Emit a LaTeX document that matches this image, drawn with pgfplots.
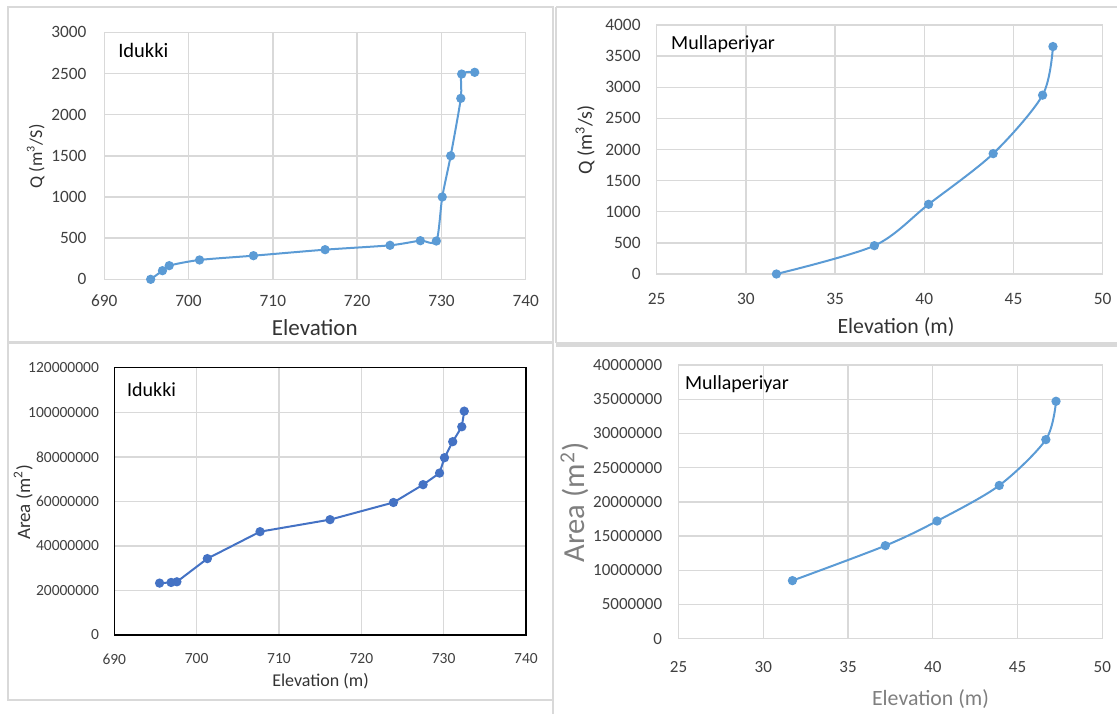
\documentclass[border=0pt]{standalone}
\usepackage{fontspec}
\setmainfont{Carlito}
\usepackage{pgfplots}
\pgfplotsset{compat=1.18}
\definecolor{lblue}{HTML}{5B9BD5}
\definecolor{dblue}{HTML}{4472C4}
\definecolor{gridc}{HTML}{D9D9D9}
\definecolor{tickc}{HTML}{404040}
\definecolor{axc}{HTML}{333333}
\definecolor{framec}{HTML}{D9D9D9}
\definecolor{gtitle}{HTML}{7F7F7F}
\pgfplotsset{
  myax/.style={anchor=south west, scale only axis, grid=major,
    grid style={gridc, line width=0.7pt},
    major tick length=0pt,
    axis line style={gridc, line width=0.7pt},
    tick label style={text=tickc},
    yticklabel style={anchor=east, inner sep=0pt},
    xticklabel style={anchor=center, inner sep=0pt},
    clip=false},
  lser/.style={lblue, line width=1pt, mark=*, mark size=1.8pt, mark options={fill=lblue, draw=lblue}},
}
\begin{document}
\begin{tikzpicture}
\useasboundingbox (0pt,0pt) rectangle (558.5pt,-357pt);
% panel frames
\draw[framec, line width=0.8pt] (4pt,-3.5pt) rectangle (276.5pt,-171pt);
\draw[framec, line width=0.8pt] (4pt,-171.5pt) rectangle (276.5pt,-350pt);
\draw[framec, line width=0.8pt] (276.5pt,-350pt) -- (276.5pt,-357pt);
\draw[framec, line width=0.8pt] (278pt,-3.5pt) -- (558.5pt,-3.5pt);
\draw[framec, line width=0.8pt] (278pt,-171.5pt) -- (558.5pt,-171.5pt);
\draw[framec, line width=0.8pt] (278pt,-3.5pt) -- (278pt,-171.5pt);
\draw[framec, line width=1.2pt] (278pt,-172.8pt) -- (558.5pt,-172.8pt);

% ---------- Panel 1: Idukki Q ----------
\begin{axis}[myax, at={(52.15pt,-139.65pt)}, width=210.7pt, height=123.5pt,
  xmin=690, xmax=740, ymin=0, ymax=3000,
  xtick={690,700,710,720,730,740}, xticklabels={690,700,710,720,730,740},
  ytick={0,500,1000,1500,2000,2500,3000}, yticklabels={0,500,1000,1500,2000,2500,3000},
  tick label style={font=\fontsize{8.65}{9}\selectfont},
  yticklabel style={xshift=-8.75pt}, xticklabel style={yshift=-10.7pt}]
\addplot[lser, smooth, tension=0.45] coordinates {
(695.5,0) (696.9,105) (697.7,166) (701.3,235) (707.7,287) (716.2,360) (723.9,413)
(727.5,469) (729.4,465) (730.1,1000) (731.1,1500) (732.3,2198) (732.4,2493) (733.95,2514)};
\end{axis}
\node[rotate=90, font=\fontsize{9}{10}\selectfont, text=axc] at (17.85pt,-78.15pt) {Q (m\textsuperscript{3}/S)};
\node[anchor=base, inner sep=0pt, font=\fontsize{11.5}{12}\selectfont, text=axc] at (157.4pt,-167.55pt) {Elevation};
\node[anchor=base west, inner sep=0pt, font=\fontsize{10.25}{11}\selectfont, text=black] at (58.95pt,-28.55pt) {Idukki};

% ---------- Panel 2: Mullaperiyar Q ----------
\begin{axis}[myax, at={(328.35pt,-137pt)}, width=223pt, height=124.5pt,
  xmin=25, xmax=50, ymin=0, ymax=4000,
  xtick={25,30,35,40,45,50}, xticklabels={25,30,35,40,45,50},
  ytick={0,500,1000,1500,2000,2500,3000,3500,4000}, yticklabels={0,500,1000,1500,2000,2500,3000,3500,4000},
  tick label style={font=\fontsize{8.7}{9}\selectfont},
  yticklabel style={xshift=-7.85pt}, xticklabel style={yshift=-12.65pt}]
\addplot[lser, smooth, tension=0.5] coordinates {
(31.71,0) (37.2,455) (40.24,1120) (43.86,1934) (46.63,2873) (47.21,3654)};
\end{axis}
\node[rotate=90, font=\fontsize{10}{11}\selectfont, text=axc] at (292.5pt,-70pt) {Q (m\textsuperscript{3}/s)};
\node[anchor=base, inner sep=0pt, font=\fontsize{10.9}{12}\selectfont, text=axc] at (448pt,-166.85pt) {Elevation (m)};
\node[anchor=base west, inner sep=0pt, font=\fontsize{10}{11}\selectfont, text=black] at (335.4pt,-24.85pt) {Mullaperiyar};

% ---------- Panel 3: Idukki Area ----------
\begin{axis}[myax, at={(57.15pt,-317.5pt)}, width=205.85pt, height=133.65pt,
  xmin=690, xmax=740, ymin=0, ymax=120000000,
  axis line style={black, line width=0.75pt},
  xtick={690,700,710,720,730,740}, xticklabels={690,700,710,720,730,740},
  ytick={0,20000000,40000000,60000000,80000000,100000000,120000000},
  yticklabels={0,20000000,40000000,60000000,80000000,100000000,120000000},
  scaled y ticks=false,
  tick label style={font=\fontsize{7.75}{8}\selectfont},
  yticklabel style={xshift=-7.5pt}, xticklabel style={yshift=-12pt}]
\addplot[dblue, line width=1pt, mark=*, mark size=1.8pt, mark options={fill=dblue, draw=dblue}] coordinates {
(695.5,23300000) (696.9,23600000) (697.6,23900000) (701.3,34300000) (707.7,46400000)
(716.2,51800000) (723.9,59500000) (727.5,67500000) (729.5,72700000) (730.1,79600000)
(731.1,86800000) (732.2,93500000) (732.5,100500000)};
\end{axis}
\node[rotate=90, font=\fontsize{9.5}{10}\selectfont, text=axc] at (11.6pt,-251.25pt) {Area (m\textsuperscript{2})};
\node[anchor=base, inner sep=0pt, font=\fontsize{9}{10}\selectfont, text=axc] at (160.25pt,-343.4pt) {Elevation (m)};
\node[anchor=base west, inner sep=0pt, font=\fontsize{10}{11}\selectfont, text=black] at (63.4pt,-198.2pt) {Idukki};

% ---------- Panel 4: Mullaperiyar Area ----------
\begin{axis}[myax, at={(339.25pt,-319.35pt)}, width=211.9pt, height=136.85pt,
  xmin=25, xmax=50, ymin=0, ymax=40000000,
  xtick={25,30,35,40,45,50}, xticklabels={25,30,35,40,45,50},
  ytick={0,5000000,10000000,15000000,20000000,25000000,30000000,35000000,40000000},
  yticklabels={0,5000000,10000000,15000000,20000000,25000000,30000000,35000000,40000000},
  scaled y ticks=false,
  tick label style={font=\fontsize{8.5}{9}\selectfont},
  yticklabel style={xshift=-8pt}, xticklabel style={yshift=-14pt}]
\addplot[lser, smooth, tension=0.5] coordinates {
(31.72,8490000) (37.2,13600000) (40.25,17200000) (43.92,22400000) (46.67,29100000) (47.27,34700000)};
\end{axis}
\node[rotate=90, font=\fontsize{15.3}{16}\selectfont, text=gtitle] at (287.35pt,-251.25pt) {Area (m\textsuperscript{2})};
\node[anchor=base, inner sep=0pt, font=\fontsize{10.9}{12}\selectfont, text=gtitle] at (465.25pt,-352.65pt) {Elevation (m)};
\node[anchor=base west, inner sep=0pt, font=\fontsize{10}{11}\selectfont, text=black] at (342.35pt,-194.85pt) {Mullaperiyar};
\end{tikzpicture}
\end{document}
